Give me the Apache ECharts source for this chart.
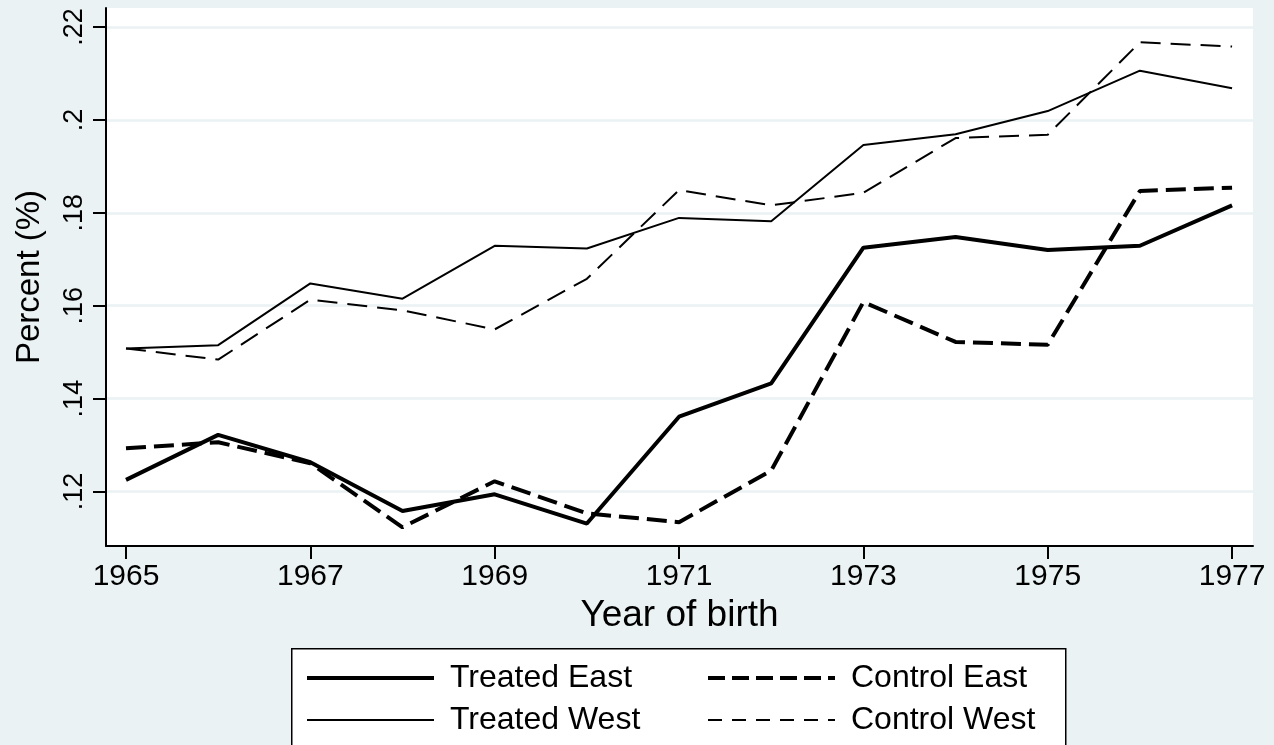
<!DOCTYPE html>
<html>
<head>
<meta charset="utf-8">
<script src="https://cdn.jsdelivr.net/npm/echarts@6/dist/echarts.min.js"></script>
<style>
html,body{margin:0;padding:0;background:#eaf2f3;}
#chart{width:1274px;height:745px;}
</style>
</head>
<body>
<div id="chart"></div>
<script>
const years = [1965,1966,1967,1968,1969,1970,1971,1972,1973,1974,1975,1976,1977];
const treatedEast = [0.1225,0.1322,0.1263,0.1158,0.1194,0.1131,0.1361,0.1433,0.1725,0.1748,0.1720,0.1729,0.1816];
const controlEast = [0.1293,0.1306,0.1261,0.1123,0.1222,0.1153,0.1134,0.1245,0.1608,0.1522,0.1516,0.1847,0.1854];
const treatedWest = [0.1508,0.1515,0.1648,0.1615,0.1729,0.1723,0.1789,0.1782,0.1946,0.1969,0.2019,0.2106,0.2068];
const controlWest = [0.1508,0.1484,0.1613,0.1590,0.1549,0.1658,0.1849,0.1816,0.1843,0.1961,0.1968,0.2167,0.2158];
const xTicks = [1965,1967,1969,1971,1973,1975,1977];
const yTicks = [0.12,0.14,0.16,0.18,0.20,0.22];
const seriesNames = ['Treated East','Control East','Treated West','Control West'];

const FONT = "'Liberation Sans', Arial, sans-serif";
const pair = arr => years.map((y,i)=>[y, arr[i]]);

const styles = {
  'Treated East': {width:4, type:'solid'},
  'Control East': {width:4, type:[20,8]},
  'Treated West': {width:2, type:'solid'},
  'Control West': {width:2, type:[20,10]}
};
const legendStyles = {
  'Treated East': {width:4, type:'solid'},
  'Control East': {width:4, type:[17,7]},
  'Treated West': {width:2, type:'solid'},
  'Control West': {width:2, type:[14,10]}
};
const legendItem = n => ({name:n, lineStyle:Object.assign({color:'#000'}, legendStyles[n]), itemStyle:{opacity:0}});
const legendBase = {
  orient:'vertical', top:662, padding:0, itemWidth:127, itemHeight:14, itemGap:10, selectedMode:false,
  itemStyle:{opacity:0},
  textStyle:{fontSize:32, color:'#000', lineHeight:32, padding:[0,0,0,11], fontFamily:FONT}
};

const chart = echarts.init(document.getElementById('chart'), null, {renderer:'canvas'});
const option = {
  backgroundColor: '#eaf2f3',
  animation: false,
  textStyle: {fontFamily: FONT},
  grid: {left:106, top:8, right:21, bottom:199, show:true, backgroundColor:'#ffffff', borderWidth:0, containLabel:false},
  xAxis: {
    type:'value', min:1964.783, max:1977.227,
    name:'Year of birth', nameLocation:'middle', nameGap:50,
    nameTextStyle:{fontSize:37, color:'#000', fontFamily:FONT},
    axisLine:{show:true, lineStyle:{color:'#000', width:2}},
    axisTick:{show:true, length:13, lineStyle:{color:'#000', width:2}, customValues:xTicks},
    axisLabel:{customValues:xTicks, fontSize:30, color:'#000', margin:16, fontFamily:FONT, formatter: v => String(v)},
    splitLine:{show:false}
  },
  yAxis: {
    type:'value', min:0.10827, max:0.22409,
    name:'Percent (%)', nameLocation:'middle', nameGap:60,
    nameTextStyle:{fontSize:33, color:'#000', fontFamily:FONT},
    axisLine:{show:true, lineStyle:{color:'#000', width:2}},
    axisTick:{show:true, length:13, lineStyle:{color:'#000', width:2}, customValues:yTicks},
    axisLabel:{customValues:yTicks, rotate:90, fontSize:27, color:'#000', margin:18, fontFamily:FONT,
      formatter: v => v.toFixed(2).replace(/^0/,'').replace(/0$/,'')},
    splitLine:{show:true, lineStyle:{color:'#eaf2f3', width:2.5}}
  },
  legend: [
    Object.assign({}, legendBase, {left:305, data:[legendItem('Treated East'), legendItem('Treated West')]}),
    Object.assign({}, legendBase, {left:706, data:[legendItem('Control East'), legendItem('Control West')]})
  ],
  graphic: [
    {type:'rect', z:0, left:291, top:648, shape:{width:774, height:120},
     style:{fill:'#ffffff', stroke:'#000', lineWidth:1.5}}
  ],
  series: seriesNames.map((n, i) => ({
    name:n, type:'line', data:pair([treatedEast, controlEast, treatedWest, controlWest][i]),
    showSymbol:false, symbol:'none',
    lineStyle:Object.assign({color:'#000'}, styles[n]), itemStyle:{color:'#000'}, z:5 - i
  }))
};
chart.setOption(option);
</script>
</body>
</html>
